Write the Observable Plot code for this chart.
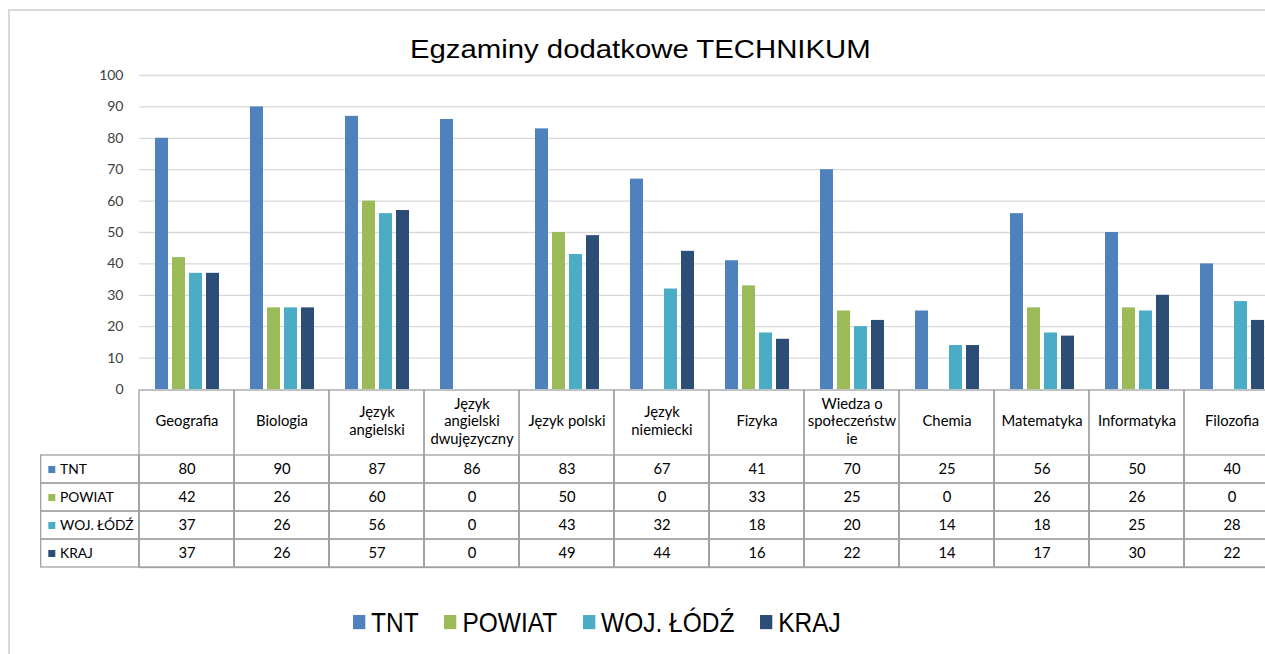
<!DOCTYPE html>
<html>
<head>
<meta charset="utf-8">
<script src="https://cdn.jsdelivr.net/npm/d3@7"></script>
<script src="https://cdn.jsdelivr.net/npm/@observablehq/plot@0.6"></script>
<style>
  html, body { margin: 0; padding: 0; background: #fff; }
  #root { position: relative; width: 1265px; height: 654px; overflow: hidden; background: #fff; }
  #frame { position: absolute; left: 8px; top: 9px; width: 1400px; height: 800px; border: 2px solid #d9d9d9; box-sizing: border-box; }
  #title { position: absolute; left: 0; top: 33.5px; width: 1280px; text-align: center; line-height: 30px;
           font-family: "Liberation Sans", Arial, sans-serif; font-size: 25.5px; color: #000; }
  #title span { display: inline-block; transform: scaleX(1.15); transform-origin: center; white-space: nowrap; }
  #chart { position: absolute; left: 0; top: 0; }
  #table { position: absolute; left: 0; top: 388px; }
  #legend { position: absolute; left: 352.7px; top: 602px; height: 40px; display: flex; align-items: center; }
  #legend > div { transform: scaleY(1.15); transform-origin: center; }
  .lg-swatches { margin: 0 !important; }
  .lg-swatch { margin-right: 25.5px !important; }
  .lg-swatch > svg { margin-right: 6px !important; }
</style>
</head>
<body>
<div id="root">
  <div id="frame"></div>
  <div id="title"><span>Egzaminy dodatkowe TECHNIKUM</span></div>
  <div id="chart"></div>
  <div id="table"></div>
  <div id="legend"></div>
</div>
<script>
// ---- data ----
const subjects = ["Geografia", "Biologia", "Język angielski", "Język angielski dwujęzyczny", "Język polski", "Język niemiecki", "Fizyka", "Wiedza o społeczeństwie", "Chemia", "Matematyka", "Informatyka", "Filozofia"];
const headerLabels = ["Geografia", "Biologia", "Język\nangielski", "Język\nangielski\ndwujęzyczny", "Język polski", "Język\nniemiecki", "Fizyka", "Wiedza o\nspołeczeństw\nie", "Chemia", "Matematyka", "Informatyka", "Filozofia"];
const series = ["TNT", "POWIAT", "WOJ. ŁÓDŹ", "KRAJ"];
const tnt    = [80, 90, 87, 86, 83, 67, 41, 70, 25, 56, 50, 40];
const powiat = [42, 26, 60,  0, 50,  0, 33, 25,  0, 26, 26,  0];
const woj    = [37, 26, 56,  0, 43, 32, 18, 20, 14, 18, 25, 28];
const kraj   = [37, 26, 57,  0, 49, 44, 16, 22, 14, 17, 30, 22];
const colors = ["#4f81bd", "#9bbb59", "#4bacc6", "#2c4d75"];
const yTicks = [10, 20, 30, 40, 50, 60, 70, 80, 90, 100];

const seriesValues = [tnt, powiat, woj, kraj];
const rows = [];
subjects.forEach((s, i) => series.forEach((k, j) => rows.push({subject: s, series: k, value: seriesValues[j][i]})));

// ---- bar chart ----
const chart = Plot.plot({
  width: 1280,
  height: 390,
  marginTop: 75,
  marginBottom: 1,
  marginLeft: 139,
  marginRight: 1,
  style: {background: "transparent", maxWidth: "none", overflow: "visible", fontFamily: "Lato, sans-serif", fontSize: "14px", color: "#404040"},
  facet: {data: rows, x: "subject"},
  fx: {domain: subjects, padding: 0, axis: null, label: null},
  x: {domain: series, paddingInner: 0.26, paddingOuter: 0.89, axis: null, label: null},
  y: {domain: [0, 100], ticks: 10, tickSize: 0, tickPadding: 16, label: null},
  color: {domain: series, range: colors},
  marks: [
    Plot.ruleY(yTicks, {y: d => d, stroke: "#d9d9d9", strokeWidth: 1.3}),
    Plot.barY(rows, {x: "series", y: "value", fill: "series"})
  ]
});
document.getElementById("chart").appendChild(chart);

// ---- data table ----
const tableCols = ["", ...subjects];
const fs = 14.8;
const table = Plot.plot({
  width: 1280,
  height: 182,
  marginTop: 65.5,
  marginBottom: 2.5,
  marginLeft: 44,
  marginRight: 1,
  style: {background: "transparent", maxWidth: "none", overflow: "visible", fontFamily: "Lato, sans-serif", fontSize: "14px", color: "#000"},
  x: {domain: tableCols, padding: 0, axis: null},
  y: {domain: series, padding: 0, axis: null},
  color: {domain: series, range: colors},
  marks: [
    Plot.cell(subjects, {x: d => d, insetTop: -63.5, fill: "none", stroke: "#a0a0a0", strokeWidth: 1.3}),
    Plot.cell(rows, {x: "subject", y: "series", fill: "none", stroke: "#a0a0a0", strokeWidth: 1.3}),
    Plot.cell(series, {x: () => "", y: d => d, insetLeft: -3.3, fill: "none", stroke: "#a0a0a0", strokeWidth: 1.3}),
    Plot.text(subjects, {x: d => d, text: (d, i) => headerLabels[i], frameAnchor: "top", lineAnchor: "middle", dy: -33.5, lineHeight: 1.18, fontSize: fs, fill: "#000"}),
    Plot.text(rows, {x: "subject", y: "series", text: d => String(d.value), fontSize: fs, fill: "#000"}),
    Plot.dot(series, {x: () => "", y: d => d, fill: d => d, symbol: "square", r: 3.95, dx: -40.2}),
    Plot.text(series, {x: () => "", y: d => d, text: d => d, textAnchor: "start", dx: -32, fontSize: 13.8, fill: "#000"})
  ]
});
document.getElementById("table").appendChild(table);

// ---- legend ----
const legend = Plot.legend({
  color: {type: "ordinal", domain: series, range: colors},
  legend: "swatches",
  swatchSize: 12.3,
  className: "lg",
  style: {fontFamily: "'Liberation Sans', Arial, sans-serif", fontSize: "24.5px", color: "#000"}
});
document.getElementById("legend").appendChild(legend);
</script>
</body>
</html>
